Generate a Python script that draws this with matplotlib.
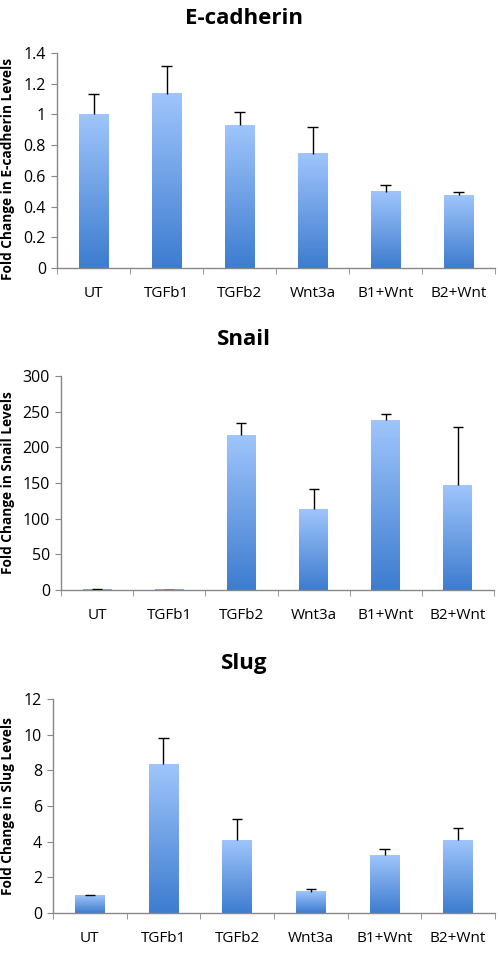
import numpy as np
import matplotlib
matplotlib.use("Agg")
import matplotlib.pyplot as plt
from matplotlib.colors import LinearSegmentedColormap

plt.rcParams['font.family'] = ['Open Sans', 'DejaVu Sans']

# === DATA ===
groups = ['UT', 'TGFb1', 'TGFb2', 'Wnt3a', 'B1+Wnt', 'B2+Wnt']

ecad_vals = [1.00, 1.133, 0.929, 0.744, 0.495, 0.473]
ecad_err = [0.13, 0.185, 0.09, 0.174, 0.048, 0.024]

snail_vals = [1.0, 0.5, 217.3, 113.0, 237.9, 146.7]
snail_err = [0.3, 0.1, 17.3, 28.6, 8.8, 82.3]

slug_vals = [0.99, 8.34, 4.07, 1.18, 3.25, 4.09]
slug_err = [0.04, 1.46, 1.19, 0.18, 0.35, 0.69]

panels = [
    dict(title='E-cadherin', vals=ecad_vals, err=ecad_err,
         ylabel='Fold Change in E-cadherin Levels',
         ylim=(0, 1.4), yticks=[0, 0.2, 0.4, 0.6, 0.8, 1, 1.2, 1.4],
         yticklabels=['0', '0.2', '0.4', '0.6', '0.8', '1', '1.2', '1.4'],
         rect=[0.1145, 0.7208, 0.8795, 0.224], title_y=0.981, label_y=0.824),
    dict(title='Snail', vals=snail_vals, err=snail_err,
         ylabel='Fold Change in Snail Levels',
         ylim=(0, 300), yticks=[0, 50, 100, 150, 200, 250, 300],
         yticklabels=['0', '50', '100', '150', '200', '250', '300'],
         rect=[0.1225, 0.3854, 0.8695, 0.2229], title_y=0.646, label_y=0.497),
    dict(title='Slug', vals=slug_vals, err=slug_err,
         ylabel='Fold Change in Slug Levels',
         ylim=(0, 12), yticks=[0, 2, 4, 6, 8, 10, 12],
         yticklabels=['0', '2', '4', '6', '8', '10', '12'],
         rect=[0.1064, 0.049, 0.8876, 0.2229], title_y=0.309, label_y=0.160),
]

cmap = LinearSegmentedColormap.from_list('bluegrad', ['#3d7ccf', '#9fc5fb'])
grad = np.linspace(0, 1, 256).reshape(-1, 1)
bar_w = 0.4
cap_w = 0.14

fig = plt.figure(figsize=(4.98, 9.6), dpi=100)

for p in panels:
    ax = fig.add_axes(p['rect'])
    x = np.arange(len(groups))
    vals = np.array(p['vals'])
    tops = vals + np.array(p['err'])
    for xi, v in zip(x, vals):
        ax.imshow(grad, extent=[xi - bar_w / 2, xi + bar_w / 2, 0, v],
                  origin='lower', cmap=cmap, aspect='auto', zorder=2)
    # upper-only error bars
    ax.vlines(x, vals, tops, color='black', lw=1, zorder=3)
    ax.hlines(tops, x - cap_w / 2, x + cap_w / 2, color='black', lw=1, zorder=3)

    ax.set_xlim(-0.5, len(groups) - 0.5)
    ax.set_ylim(*p['ylim'])
    ax.set_yticks(p['yticks'])
    ax.set_yticklabels(p['yticklabels'])
    ax.set_xticks(x)
    ax.set_xticklabels(groups)
    ax.set_xticks(np.arange(-0.5, len(groups)), minor=True)
    ax.tick_params(axis='x', which='major', length=0, pad=13, labelsize=11)
    ax.tick_params(axis='x', which='minor', length=4, color='#888888', direction='out')
    ax.tick_params(axis='y', length=4, color='#888888', labelsize=11.5, pad=4)

    for s in ['top', 'right']:
        ax.spines[s].set_visible(False)
    for s in ['left', 'bottom']:
        ax.spines[s].set_color('#888888')
        ax.spines[s].set_linewidth(1)

    fig.text(0.49, p['title_y'], p['title'], ha='center', va='center',
             fontsize=16, fontweight='bold')
    fig.text(0.017, p['label_y'], p['ylabel'], rotation=90, ha='center',
             va='center', fontsize=9.8, fontweight='bold')

fig.savefig('out.png', dpi=100)
